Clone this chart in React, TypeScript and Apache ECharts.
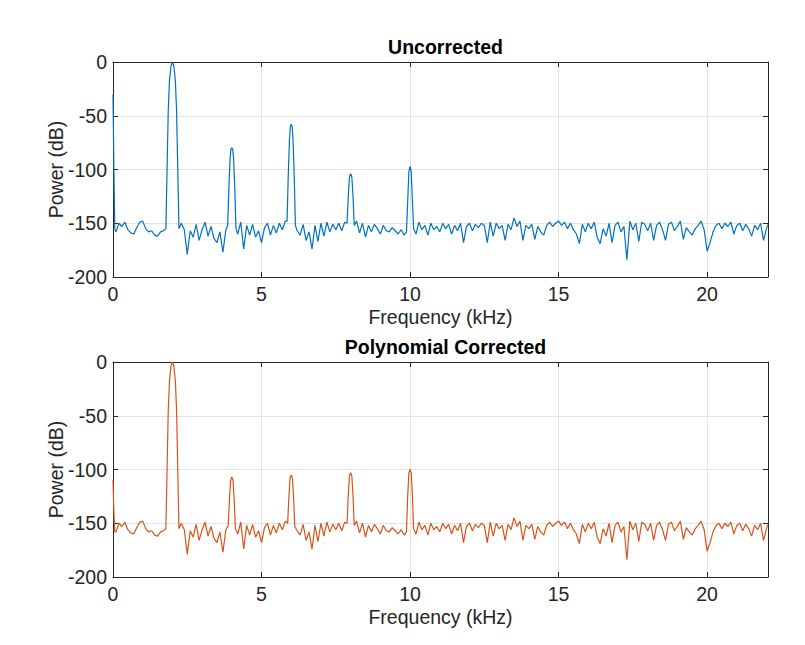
import React, { useEffect, useRef } from "react";
import * as echarts from "echarts";

const F_STEP = 0.1;
const F_MAX = 22.05;
const END_DB = -151;

// Noise floor, 0.0 .. 22.0 kHz every 0.1 kHz
const noiseDb = [
  -150, -158, -150, -153, -149, -156, -159, -160, -154, -149,
  -148, -155, -158, -157, -161, -162, -158, -157, -155, -150,
  -150, -150, -150, -150, -156, -179, -157, -163, -151, -166,
  -156, -149, -162, -153, -164, -168, -158, -177, -156, -152,
  -150, -150, -160, -149, -174, -152, -161, -151, -163, -157,
  -168, -154, -150, -161, -152, -159, -150, -156, -148, -150,
  -150, -150, -157, -161, -151, -166, -158, -174, -152, -167,
  -150, -162, -149, -158, -151, -156, -150, -157, -149, -150,
  -150, -150, -148, -159, -150, -163, -152, -158, -151, -155,
  -160, -152, -157, -158, -154, -157, -160, -156, -161, -158,
  -150, -150, -160, -149, -156, -152, -161, -150, -156, -153,
  -158, -150, -155, -151, -160, -152, -157, -150, -168, -153,
  -150, -157, -151, -154, -150, -152, -168, -149, -162, -150,
  -155, -152, -166, -151, -156, -145, -153, -148, -166, -152,
  -155, -151, -165, -153, -158, -161, -152, -149, -153, -150,
  -148, -152, -149, -155, -150, -156, -160, -169, -151, -158,
  -150, -155, -149, -163, -169, -155, -162, -150, -168, -152,
  -149, -158, -153, -184, -148, -156, -150, -167, -149, -151,
  -157, -150, -166, -152, -149, -156, -166, -151, -149, -157,
  -153, -148, -165, -154, -158, -161, -155, -152, -148, -156,
  -176, -168, -158, -152, -150, -155, -150, -153, -149, -160,
  -152, -150, -157, -151, -155, -162, -152, -156, -150, -166,
  -155,
];

const fundamental: [number, number][] = [
  [1.78, -155], [1.82, -100], [1.86, -45], [1.9, -18], [1.95, -4], [2.0, 0],
  [2.05, -4], [2.1, -18], [2.14, -45], [2.18, -100], [2.22, -155],
];

const peaksUncorrected: [number, number][][] = [
  [[0, -30], [0.03, -100], [0.06, -155]],
  fundamental,
  [[3.86, -152], [3.9, -118], [3.94, -90], [3.97, -81], [4.0, -80], [4.03, -81], [4.06, -90], [4.1, -118], [4.14, -155]],
  [[5.86, -148], [5.9, -105], [5.94, -72], [5.97, -60], [6.0, -58], [6.03, -60], [6.06, -72], [6.1, -105], [6.14, -152]],
  [[7.88, -150], [7.92, -125], [7.96, -107], [8.0, -104], [8.04, -107], [8.08, -125], [8.12, -152]],
  [[9.88, -158], [9.92, -130], [9.96, -102], [10.0, -97], [10.04, -102], [10.08, -130], [10.12, -155]],
];

const peaksCorrected: [number, number][][] = [
  [[0, -110], [0.03, -140], [0.06, -158]],
  fundamental,
  [[3.88, -152], [3.92, -128], [3.96, -110], [4.0, -107], [4.04, -110], [4.08, -128], [4.12, -155]],
  [[5.88, -150], [5.92, -126], [5.96, -108], [6.0, -105], [6.04, -108], [6.08, -126], [6.12, -153]],
  [[7.88, -150], [7.92, -124], [7.96, -106], [8.0, -103], [8.04, -106], [8.08, -124], [8.12, -152]],
  [[9.88, -158], [9.92, -125], [9.96, -103], [10.0, -100], [10.04, -103], [10.08, -125], [10.12, -155]],
];

const xTicks = [0, 5, 10, 15, 20];
const yTicks = [-200, -150, -100, -50, 0];

function buildSeries(peaks: [number, number][][]): [number, number][] {
  const ranges = peaks.map((p) => [p[0][0], p[p.length - 1][0]]);
  const pts: [number, number][] = [];
  noiseDb.forEach((v, i) => {
    const f = Math.round(i * F_STEP * 100) / 100;
    if (!ranges.some(([a, b]) => f >= a && f <= b)) pts.push([f, v]);
  });
  pts.push([F_MAX, END_DB]);
  peaks.forEach((p) => pts.push(...p));
  pts.sort((a, b) => a[0] - b[0]);
  return pts;
}

const FONT = "Arial, 'Liberation Sans', Helvetica, sans-serif";
const FS = 19.5;
const AX = "#262626";
const GRIDC = "#e3e3e3";

export default function App() {
  const ref = useRef<HTMLDivElement>(null);
  useEffect(() => {
    if (!ref.current) return;
    const chart = echarts.init(ref.current, undefined, { renderer: "svg" });
    const grids = [
      { left: 105, top: 54, width: 655, height: 215 },
      { left: 105, top: 354, width: 655, height: 215 },
    ];
    const xAxes: any[] = [];
    const yAxes: any[] = [];
    grids.forEach((_, gi) => {
      xAxes.push({
        type: "value",
        gridIndex: gi,
        min: 0,
        max: F_MAX,
        interval: 5,
        name: "Frequency (kHz)",
        nameLocation: "middle",
        nameGap: 30,
        nameMoveOverlap: false,
        nameTextStyle: { fontFamily: FONT, fontSize: FS, color: AX },
        axisLine: { show: true, onZero: false, lineStyle: { color: AX, width: 1 } },
        axisTick: { show: true, inside: true, length: 5, lineStyle: { color: AX } },
        axisLabel: {
          show: true,
          margin: 7,
          fontFamily: FONT,
          fontSize: FS,
          color: AX,
          showMaxLabel: false,
          formatter: (v: number) => (xTicks.includes(v) ? String(v) : ""),
        },
        splitLine: { show: true, lineStyle: { color: GRIDC, width: 1 } },
      });
      xAxes.push({
        type: "value",
        gridIndex: gi,
        position: "top",
        min: 0,
        max: F_MAX,
        interval: 5,
        axisLine: { show: true, onZero: false, lineStyle: { color: AX, width: 1 } },
        axisTick: { show: true, inside: true, length: 5, lineStyle: { color: AX } },
        axisLabel: { show: false },
        splitLine: { show: false },
      });
      yAxes.push({
        type: "value",
        gridIndex: gi,
        min: -200,
        max: 0,
        interval: 50,
        name: "Power (dB)",
        nameLocation: "middle",
        nameGap: 47,
        nameMoveOverlap: false,
        nameTextStyle: { fontFamily: FONT, fontSize: FS, color: AX },
        axisLine: { show: true, onZero: false, lineStyle: { color: AX, width: 1 } },
        axisTick: { show: true, inside: true, length: 5, lineStyle: { color: AX } },
        axisLabel: {
          show: true,
          margin: 6,
          fontFamily: FONT,
          fontSize: FS,
          color: AX,
          formatter: (v: number) => (yTicks.includes(v) ? String(v) : ""),
        },
        splitLine: { show: true, lineStyle: { color: GRIDC, width: 1 } },
      });
      yAxes.push({
        type: "value",
        gridIndex: gi,
        position: "right",
        min: -200,
        max: 0,
        interval: 50,
        axisLine: { show: true, onZero: false, lineStyle: { color: AX, width: 1 } },
        axisTick: { show: true, inside: true, length: 5, lineStyle: { color: AX } },
        axisLabel: { show: false },
        splitLine: { show: false },
      });
    });

    chart.setOption({
      animation: false,
      backgroundColor: "#ffffff",
      title: [
        {
          text: "Uncorrected",
          left: 432.5,
          top: 24,
          textAlign: "center",
          textStyle: { fontFamily: FONT, fontSize: FS, fontWeight: "bold", color: "#000" },
        },
        {
          text: "Polynomial Corrected",
          left: 432.5,
          top: 324,
          textAlign: "center",
          textStyle: { fontFamily: FONT, fontSize: FS, fontWeight: "bold", color: "#000" },
        },
      ],
      grid: grids,
      xAxis: xAxes,
      yAxis: yAxes,
      series: [
        {
          type: "line",
          xAxisIndex: 0,
          yAxisIndex: 0,
          data: buildSeries(peaksUncorrected),
          showSymbol: false,
          lineStyle: { color: "#0072BD", width: 1.2 },
          itemStyle: { color: "#0072BD" },
        },
        {
          type: "line",
          xAxisIndex: 2,
          yAxisIndex: 2,
          data: buildSeries(peaksCorrected),
          showSymbol: false,
          lineStyle: { color: "#D95319", width: 1.2 },
          itemStyle: { color: "#D95319" },
        },
      ],
    });
    return () => chart.dispose();
  }, []);
  return <div ref={ref} style={{ width: 805, height: 645 }} />;
}
